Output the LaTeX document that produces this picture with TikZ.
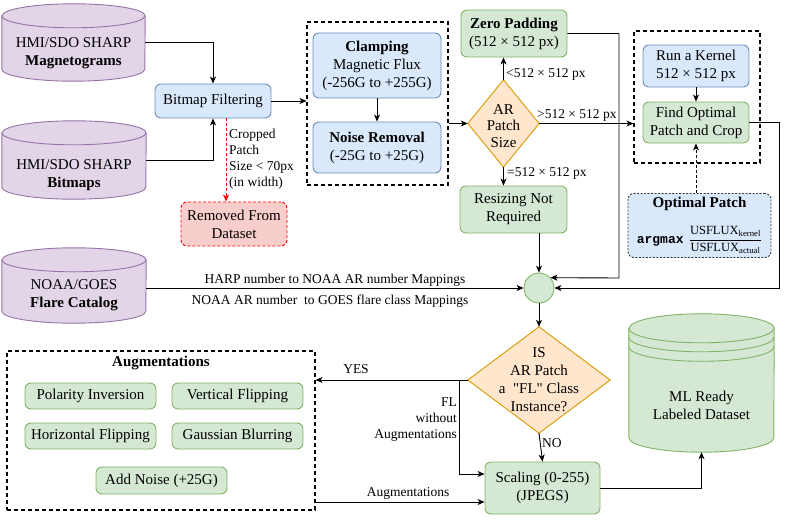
\documentclass[tikz,border=0pt]{standalone}
\usepackage{fontspec}
\setmainfont{Liberation Serif}
\setmonofont{Liberation Mono}
\newfontfamily\tnr{Liberation Serif}
\usetikzlibrary{arrows.meta,calc}
\definecolor{purF}{HTML}{E1D5E7}\definecolor{purD}{HTML}{9673A6}
\definecolor{bluF}{HTML}{DAE8FC}\definecolor{bluD}{HTML}{6C8EBF}
\definecolor{grnF}{HTML}{D5E8D4}\definecolor{grnD}{HTML}{82B366}
\definecolor{orgF}{HTML}{FFE6CC}\definecolor{orgD}{HTML}{D79B00}
\definecolor{redF}{HTML}{F8CECC}\definecolor{redD}{HTML}{FF0000}
\definecolor{gryD}{HTML}{36393D}
\newcommand\mainfs{\tnr\fontsize{15}{18}\selectfont}
\newcommand\labfs{\tnr\fontsize{13.5}{16}\selectfont}
\newcommand\sq{\XeTeXglyph\XeTeXcharglyph"22\relax}
\newcommand\mycyl[4]{%
  \path[fill=#4F, draw=#4D, line width=0.9pt]
    ($(#1.north west)+(0,#3)$) -- ($(#1.south west)-(0,#3)$)
    arc[start angle=180,end angle=360,x radius=#2pt,y radius=#3pt]
    -- ($(#1.north east)+(0,#3)$)
    arc[start angle=0,end angle=180,x radius=#2pt,y radius=#3pt] -- cycle;
  \draw[#4D, line width=0.9pt] ($(#1.north west)+(0,#3)$)
    arc[start angle=180,end angle=360,x radius=#2pt,y radius=#3pt];}
\begin{document}
\begin{tikzpicture}[x=1pt,y=-1pt,
  box/.style={draw, rounded corners=6pt, align=center, inner sep=0pt, font=\mainfs, line width=0.9pt},
  bluebox/.style={box, fill=bluF, draw=bluD},
  greenbox/.style={box, fill=grnF, draw=grnD},
  holder/.style={draw=none, fill=none, inner sep=0pt},
  txt/.style={align=center, inner sep=0pt, font=\mainfs},
  lab/.style={inner sep=0pt, font=\labfs},
  dbox/.style={draw=black, dash pattern=on 4pt off 3pt, line width=1.1pt, inner sep=0pt},
  arr/.style={-{Stealth[length=7pt,width=6pt,inset=2pt]}, line width=0.9pt},
  line/.style={line width=0.9pt}]
\useasboundingbox (0,0) rectangle (789,519);

% cylinders
\node[holder, minimum width=143, minimum height=77] (mag) at (73.5,42.5) {};
\mycyl{mag}{71.5}{12}{pur}
\node[txt] (magt) at (73.5,53.5) {HMI/SDO SHARP\\\textbf{Magnetograms}};
\node[holder, minimum width=144, minimum height=78] (bit) at (74,160) {};
\mycyl{bit}{72}{12}{pur}
\node[txt] (bitt) at (74,175) {HMI/SDO SHARP\\\textbf{Bitmaps}};
\node[holder, minimum width=144, minimum height=75] (noaa) at (74,285.5) {};
\mycyl{noaa}{72}{12}{pur}
\node[txt] (noaat) at (74,295) {NOAA/GOES\\\textbf{Flare Catalog}};
\node[holder, minimum width=145, minimum height=138] (ml) at (701.5,383) {};
\mycyl{ml}{72.5}{14.5}{grn}
\draw[grnD, line width=0.9pt] ($(ml.north west)+(0,23.5)$) arc[start angle=180,end angle=360,x radius=72.5pt,y radius=14.5pt];
\draw[grnD, line width=0.9pt] ($(ml.north west)+(0,33)$) arc[start angle=180,end angle=360,x radius=72.5pt,y radius=14.5pt];
\node[txt] (mlt) at (701.5,405) {ML Ready\\Labeled Dataset};

% left column
\node[bluebox, minimum width=116, minimum height=34] (bf) at (213,101) {Bitmap Filtering};
\node[box, fill=redF, draw=redD, dash pattern=on 3pt off 2pt, minimum width=106, minimum height=44] (rm) at (234,224) {Removed From\\Dataset};

% dashed box 1
\node[dbox, minimum width=141, minimum height=163] (box1) at (377.5,103.5) {};
\node[bluebox, minimum width=128, minimum height=65] (clamp) at (377,65.5) {\textbf{Clamping}\\Magnetic Flux\\(-256G to +255G)};
\node[bluebox, minimum width=128, minimum height=51] (noise) at (377,147.5) {\textbf{Noise Removal}\\(-25G to +25G)};

% AR patch size
\node[holder, minimum width=71, minimum height=87] (ard) at (503.5,123.5) {};
\draw[fill=orgF, draw=orgD, line width=0.9pt] (ard.north) -- (ard.east) -- (ard.south) -- (ard.west) -- cycle;
\node[txt, font=\tnr\fontsize{15}{16.5}\selectfont] (ardt) at (503.5,126) {AR\\Patch\\Size};
\node[greenbox, minimum width=106, minimum height=47] (zp) at (514,33.5) {\textbf{Zero Padding}\\(512 × 512 px)};
\node[greenbox, minimum width=107, minimum height=47] (rnr) at (513.5,209.5) {Resizing Not\\Required};

% dashed box 2
\node[dbox, minimum width=126, minimum height=132] (box2) at (697,97) {};
\node[bluebox, minimum width=106, minimum height=42] (rk) at (696,66) {Run a Kernel\\512 × 512 px};
\node[greenbox, minimum width=106, minimum height=41] (fo) at (696,122.5) {Find Optimal\\Patch and Crop};
\node[box, fill=bluF, draw=gryD, dash pattern=on 2pt off 1.5pt, minimum width=143, minimum height=64] (op) at (699.5,225.5) {};
\node[txt] (opt) at (699.5,204) {\textbf{Optimal Patch}};
\node[txt, font=\tnr\fontsize{12.5}{14}\selectfont] (opf) at (699.5,240) {{\ttfamily\bfseries\fontsize{13}{14}\selectfont argmax}\, $\displaystyle\frac{\mbox{USFLUX\textsubscript{kernel}}}{\mbox{USFLUX\textsubscript{actual}}}$};

% join circle
\node[circle, fill=grnF, draw=grnD, line width=0.9pt, minimum size=30, inner sep=0pt] (circ) at (539,288) {};

% IS diamond
\node[holder, minimum width=142, minimum height=106] (isd) at (539,380) {};
\draw[fill=orgF, draw=orgD, line width=0.9pt] (isd.north) -- (isd.east) -- (isd.south) -- (isd.west) -- cycle;
\node[txt] (isdt) at (539,380) {IS\\AR Patch\\a~ \sq FL\sq{} Class\\Instance?};
\node[greenbox, minimum width=115, minimum height=52] (sc) at (542.5,488) {Scaling (0-255)\\(JPEGS)};

% augmentations
\node[dbox, minimum width=308, minimum height=159] (augbox) at (161,430.5) {};
\node[txt] (augt) at (161,363) {\textbf{Augmentations}};
\node[greenbox, minimum width=131, minimum height=26] (pi) at (90.5,396) {Polarity Inversion};
\node[greenbox, minimum width=131, minimum height=26] (vf) at (237.5,396) {Vertical Flipping};
\node[greenbox, minimum width=131, minimum height=26] (hf) at (90.5,436) {Horizontal Flipping};
\node[greenbox, minimum width=131, minimum height=26] (gb) at (237.5,436) {Gaussian Blurring};
\node[greenbox, minimum width=131, minimum height=27] (an) at (161.5,480.5) {Add Noise (+25G)};

% helper coordinates
\coordinate (rx) at (226,0);
\coordinate (j1) at (619,278);
\coordinate (j2) at (779,288);
\coordinate (j3) at (459,380);
\coordinate (j4) at (459,474);
\coordinate (ya) at (0,502);

% connectors
\draw[arr] (mag.east) -| (bf.north);
\draw[arr] (bit.east) -| (bf.south);
\draw[arr] (bf.east) -- (bf.east -| box1.west);
\draw[arr, redD, dash pattern=on 3pt off 2pt] (bf.south -| rx) -- (rm.north -| rx);
\node[lab, anchor=west, align=left] (crop) at (229,159) {Cropped\\Patch\\Size < 70px\\(in width)};
\draw[arr] (clamp.south) -- (noise.north);
\draw[arr] (box1.east |- ard.west) -- (ard.west);
\draw[arr] (ard.north) -- (ard.north |- zp.south);
\node[lab, anchor=west] (lt) at (506,74) {<512 × 512 px};
\draw[arr] (ard.east) -- (ard.east -| box2.west);
\node[lab, anchor=west] (gt) at (537,115) {>512 × 512 px};
\draw[arr] (ard.south) -- (ard.south |- rnr.north);
\node[lab, anchor=west] (eq) at (507,173) {=512 × 512 px};
\draw[arr] (rk.south) -- (fo.north);
\draw[arr, dash pattern=on 3pt off 2pt] (op.north -| fo.south) -- (fo.south);
\draw[arr] (zp.east) -| (j1) -- (circ.42);
\draw[arr] (fo.east) -| (j2) -- (circ.east);
\draw[arr] (circ.north |- rnr.south) -- (circ.north);
\draw[arr] (noaa.east |- circ.west) -- (circ.west);
\node[lab] (harp) at (335,280) {HARP number to NOAA AR number Mappings};
\node[lab] (goes) at (330,301) {NOAA AR number\ \ to GOES flare class Mappings};
\draw[arr] (circ.south) -- (isd.north);
\draw[arr] (isd.west) -- (isd.west -| augbox.east);
\node[lab] (yes) at (356,369) {YES};
\draw[arr] (j3) -- (j4) -- (j4 -| sc.west);
\node[lab, anchor=east, align=right] (flwo) at (457,420) {FL\\without\\Augmentations};
\draw[arr] (isd.south) -- (sc.north);
\node[lab, anchor=west] (no) at (542,443) {NO};
\draw[arr] (augbox.east |- ya) -- (sc.west |- ya);
\node[lab] (augl) at (408,493) {Augmentations};
\draw[arr] (sc.east) -| (ml.south);
\end{tikzpicture}
\end{document}
